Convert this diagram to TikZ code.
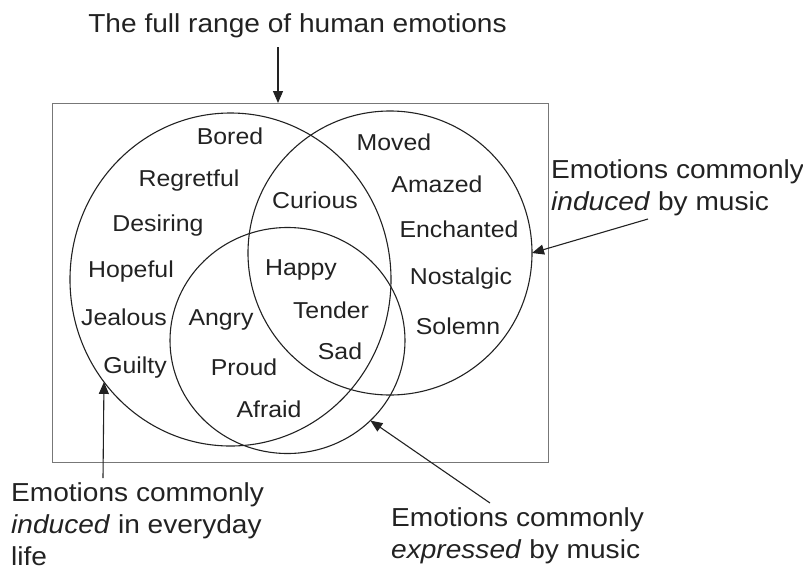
\documentclass[tikz,border=0pt]{standalone}
\usepackage{fontspec}
\setmainfont{Liberation Sans}[FakeStretch=1.08]
\usetikzlibrary{arrows.meta,shapes.geometric}
\definecolor{ink}{HTML}{222222}
\definecolor{framegray}{HTML}{777777}
\begin{document}
\begin{tikzpicture}[x=1pt,y=-1pt,
  set/.style={draw=ink, line width=1.1pt, ellipse, inner sep=0pt, outer sep=0pt},
  word/.style={font=\fontsize{23}{28}\selectfont, text=ink, anchor=base, inner sep=0pt},
  caption/.style={font=\fontsize{26}{32}\selectfont, text=ink, anchor=base west, align=left, inner sep=0pt},
  arr/.style={draw=ink, line width=1.1pt, -{Triangle[length=12pt,width=10pt]}}]
\useasboundingbox (0,0) rectangle (803,571);

% outer frame: all human emotions
\node[draw=framegray, line width=1pt, minimum width=496pt, minimum height=359pt,
      inner sep=0pt, outer sep=0pt] (frame) at (300,282.5) {};

% the three emotion sets
\node[set, minimum width=321pt, minimum height=333pt] (life) at (230.5,279.5) {};
\node[set, minimum width=284pt, minimum height=284pt] (induced) at (390,253) {};
\node[set, minimum width=235pt, minimum height=226pt] (expressed) at (287.5,340.5) {};

% emotions inside the sets
\node[word] (bored)     at (230,144) {Bored};
\node[word] (regretful) at (189,186) {Regretful};
\node[word] (desiring)  at (158,231) {Desiring};
\node[word] (hopeful)   at (131,277) {Hopeful};
\node[word] (jealous)   at (124,325) {Jealous};
\node[word] (guilty)    at (135,373) {Guilty};
\node[word] (curious)   at (315,208) {Curious};
\node[word] (moved)     at (394,150) {Moved};
\node[word] (amazed)    at (437,192) {Amazed};
\node[word] (enchanted) at (459,237) {Enchanted};
\node[word] (nostalgic) at (461,284) {Nostalgic};
\node[word] (solemn)    at (458,334) {Solemn};
\node[word] (happy)     at (301,275) {Happy};
\node[word] (tender)    at (331,318) {Tender};
\node[word] (sad)       at (340,359) {Sad};
\node[word] (angry)     at (221,325) {Angry};
\node[word] (proud)     at (244,375) {Proud};
\node[word] (afraid)    at (269,417) {Afraid};

% captions (anchored at the baseline of their last line)
\node[caption, anchor=base] (title) at (297.5,32) {The full range of human emotions};
\node[caption] (capinduced) at (551,210) {Emotions commonly\\\textit{induced} by music};
\node[caption] (caplife) at (11,565) {Emotions commonly\\\textit{induced} in everyday\\life};
\node[caption] (capexpressed) at (391,558) {Emotions commonly\\\textit{expressed} by music};

% pointers from captions to sets
\coordinate (fullstart) at (278,47);
\coordinate (inducedstart) at (648,219);
\coordinate (lifestart) at (103,478);
\coordinate (expressedstart) at (490,503);
\draw[arr] (fullstart) -- (fullstart |- frame.north);
\draw[arr] (inducedstart) -- (induced.east);
\draw[arr] (lifestart) -- (life.219);
\draw[arr] (expressedstart) -- (expressed.316);
\end{tikzpicture}
\end{document}
